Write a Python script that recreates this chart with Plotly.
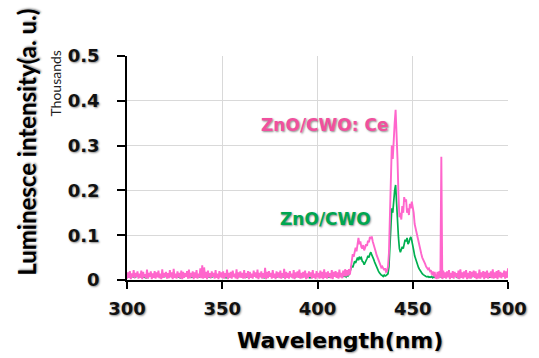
import numpy as np
import plotly.graph_objects as go

# ---------------- data (raw intensity, counts; axis shown in thousands) -------------
# ZnO/CWO:Ce (pink) sampled every 0.5 nm
pink_wl_a = np.arange(300.0, 415.0, 0.5)          # 300.0 .. 414.5
pink_a = [
    3, 17, 5, 20, 2, 15, 6, 22, 4, 16,
    7, 19, 3, 14, 5, 21, 2, 18, 6, 13,
    4, 23, 3, 16, 7, 19, 2, 15, 5, 20,
    3, 17, 6, 21, 4, 14, 2, 24, 5, 16,
    7, 18, 3, 15, 4, 22, 6, 17, 2, 25,
    5, 14, 3, 19, 6, 16, 4, 21, 2, 18,
    5, 15, 7, 20, 3, 23, 4, 16, 6, 19,
    2, 17, 5, 22, 3, 14, 6, 26, 4, 33,
    3, 28, 5, 18, 2, 21, 6, 15, 4, 19,
    7, 16, 3, 22, 5, 14, 2, 20, 6, 17,
    4, 19, 3, 15, 6, 23, 2, 16, 5, 18,
    3, 21, 7, 14, 4, 24, 2, 17, 6, 19,
    5, 16, 3, 22, 4, 15, 6, 20, 2, 18,
    5, 14, 3, 21, 7, 17, 4, 23, 2, 16,
    6, 19, 3, 15, 5, 27, 2, 18, 4, 20,
    7, 16, 3, 22, 5, 14, 2, 19, 6, 17,
    4, 21, 3, 15, 6, 25, 2, 18, 5, 16,
    3, 20, 7, 14, 4, 22, 2, 17, 6, 19,
    5, 23, 3, 16, 4, 18, 6, 21, 2, 15,
    4, 19, 7, 17, 3, 22, 5, 14, 2, 20,
    6, 16, 3, 21, 4, 18, 2, 24, 5, 17,
    3, 19, 6, 15, 4, 22, 2, 18, 7, 20,
    5, 17, 3, 23, 6, 16, 4, 21, 8, 24,
]
pink_wl_b = np.arange(415.0, 462.5, 0.5)          # 415.0 .. 462.0
pink_b = [
    8, 22, 10, 24, 12, 30, 45, 58, 52, 66,
    72, 64, 88, 94, 80, 86, 74, 70, 78, 66,
    72, 80, 76, 88, 84, 96, 92, 97, 86, 80,
    72, 64, 56, 50, 44, 38, 34, 28, 30, 24,
    22, 26, 18, 20, 30, 60, 130, 240, 300, 270,
    330, 350, 380, 330, 270, 190, 140, 150, 135, 165,
    150, 185, 175, 180, 150, 160, 145, 170, 160, 175,
    165, 150, 125, 115, 100, 90, 82, 70, 64, 58,
    50, 46, 40, 36, 30, 28, 24, 26, 20, 22,
    12, 19, 8, 18, 5,
]
pink_wl_c = np.arange(462.5, 500.5, 0.5)          # 462.5 .. 500.0
pink_c = [
    4, 18, 3, 20, 6, 275, 2, 21, 5, 17,
    3, 19, 6, 22, 2, 16, 5, 20, 3, 18,
    7, 15, 4, 21, 2, 24, 5, 17, 3, 19,
    6, 22, 2, 16, 4, 20, 3, 18, 7, 21,
    5, 19, 2, 15, 4, 23, 3, 17, 6, 20,
    2, 18, 5, 21, 3, 16, 6, 19, 4, 24,
    3, 17, 5, 20, 2, 22, 6, 18, 4, 16,
    7, 21, 3, 19, 5, 26,
]

# ZnO/CWO (green)
green_wl_a = np.arange(300.0, 413.0, 2.0)         # 300 .. 412
green_a = [
    7, 9, 6, 10, 8, 5, 9, 7, 11, 6,
    8, 10, 7, 9, 5, 8, 11, 6, 9, 7,
    10, 8, 6, 9, 7, 11, 5, 8, 10, 7,
    9, 6, 8, 11, 7, 9, 5, 10, 8, 6,
    9, 7, 11, 8, 6, 10, 7, 9, 5, 8,
    10, 7, 9, 6, 11, 8, 9,
]
green_wl_b = np.arange(414.0, 462.5, 0.5)         # 414.0 .. 462.0
green_b = [
    8, 10, 7, 11, 9, 12, 18, 26, 32, 28,
    36, 42, 38, 46, 50, 44, 52, 48, 50, 42,
    40, 34, 38, 44, 48, 54, 50, 58, 62, 56,
    52, 46, 40, 34, 30, 24, 20, 16, 13, 11,
    10, 8, 11, 9, 10, 12, 14, 30, 80, 130,
    160, 150, 185, 200, 212, 170, 120, 95, 70, 62,
    68, 74, 70, 82, 90, 86, 94, 80, 84, 92,
    96, 88, 80, 66, 54, 46, 40, 34, 28, 24,
    20, 17, 14, 12, 10, 9, 8, 7, 8, 6,
    7, 6, 8, 5, 7, 6, 7,
]
green_wl_c = np.arange(464.0, 501.0, 2.0)         # 464 .. 500
green_c = [8, 6, 10, 7, 9, 5, 11, 8, 6, 9, 7, 10, 8, 6, 9, 7, 11, 8, 9]

series_names = ["ZnO/CWO", "ZnO/CWO: Ce"]
x_ticks = [300, 350, 400, 450, 500]
y_ticks = [0, 0.1, 0.2, 0.3, 0.4, 0.5]
y_tick_text = ["0", "0.1", "0.2", "0.3", "0.4", "0.5"]

# ---------------- assemble -------------
for wl, v in [(pink_wl_a, pink_a), (pink_wl_b, pink_b), (pink_wl_c, pink_c),
              (green_wl_a, green_a), (green_wl_b, green_b), (green_wl_c, green_c)]:
    assert len(wl) == len(v), (len(wl), len(v))

pink_x = np.concatenate([pink_wl_a, pink_wl_b, pink_wl_c])
pink_y = np.array(pink_a + pink_b + pink_c) / 1000.0     # shown in thousands
green_x = np.concatenate([green_wl_a, green_wl_b, green_wl_c])
green_y = np.array(green_a + green_b + green_c) / 1000.0

PINK = "#FF66CC"
GREEN = "#00B050"
SHADOW = "1px 1px 2px rgba(0,0,0,0.45)"

fig = go.Figure()
fig.add_trace(go.Scatter(x=green_x, y=green_y, mode="lines", name=series_names[0],
                         line=dict(color=GREEN, width=1.7)))
fig.add_trace(go.Scatter(x=pink_x, y=pink_y, mode="lines", name=series_names[1],
                         line=dict(color=PINK, width=1.9)))

W, H = 539, 358
L, R, T, B = 127, 28, 56, 78
pw, ph = W - L - R, H - T - B

def px_x(p):
    return (p - L) / pw

def px_y(p):
    return (H - B - p) / ph

tick_font = dict(family="DejaVu Sans", size=18, color="#111111", weight="bold", shadow=SHADOW)

fig.update_layout(
    width=W, height=H,
    margin=dict(l=L, r=R, t=T, b=B, pad=0),
    paper_bgcolor="white", plot_bgcolor="white",
    showlegend=False,
    xaxis=dict(range=[300, 500], tickvals=x_ticks, ticktext=[str(t) for t in x_ticks],
               showgrid=True, gridcolor="#D9D9D9", gridwidth=1,
               showline=True, linecolor="black", linewidth=1.5,
               ticks="outside", ticklen=7, tickwidth=1.5, tickcolor="black",
               tickfont=tick_font, ticklabelstandoff=5, zeroline=False),
    yaxis=dict(range=[0, 0.5], tickvals=y_ticks, ticktext=y_tick_text,
               showgrid=True, gridcolor="#D9D9D9", gridwidth=1,
               showline=True, linecolor="black", linewidth=1.5,
               ticks="outside", ticklen=8, tickwidth=1.5, tickcolor="black",
               tickfont=tick_font, ticklabelstandoff=14, zeroline=False),
)

annotations = [
    dict(text="Luminesce intensity(a. u.)", x=px_x(25), y=px_y(142), xref="paper", yref="paper",
         textangle=-90, showarrow=False, xanchor="center", yanchor="middle",
         font=dict(family="Lato", size=24, color="black", weight="bold", shadow=SHADOW)),
    dict(text="Thousands", x=px_x(54), y=px_y(84), xref="paper", yref="paper",
         textangle=-90, showarrow=False, xanchor="center", yanchor="middle",
         font=dict(family="Lato", size=14, color="#222222")),
    dict(text="Wavelength(nm)", x=px_x(342), y=px_y(340), xref="paper", yref="paper",
         showarrow=False, xanchor="center", yanchor="middle",
         font=dict(family="DejaVu Sans", size=22, color="black", weight="bold", shadow=SHADOW)),
    dict(text=series_names[1], x=px_x(327), y=px_y(125), xref="paper", yref="paper",
         showarrow=False, xanchor="center", yanchor="middle",
         font=dict(family="DejaVu Sans", size=17, color="#F0509E", weight="bold", shadow=SHADOW)),
    dict(text=series_names[0], x=px_x(327), y=px_y(219), xref="paper", yref="paper",
         showarrow=False, xanchor="center", yanchor="middle",
         font=dict(family="DejaVu Sans", size=17, color="#00A650", weight="bold", shadow=SHADOW)),
]
fig.update_layout(annotations=annotations)

fig.write_html("out.html", config={"displayModeBar": False},
               post_script="document.body.style.margin='0';document.body.style.padding='0';")
